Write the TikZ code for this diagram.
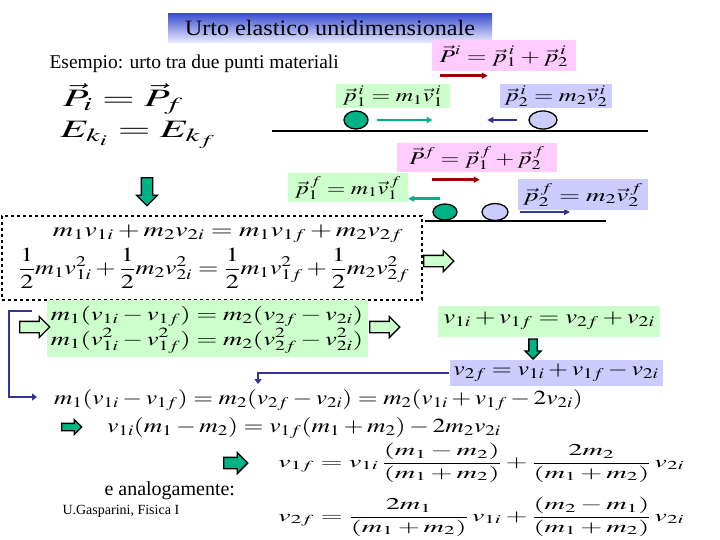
\documentclass[tikz,border=0pt]{standalone}
\usepackage{mathptmx}
\usepackage{fontspec}
\setmainfont{Liberation Serif}
\usepackage{tikz}
\usetikzlibrary{positioning,arrows.meta,shapes.geometric,shapes.arrows}

\definecolor{paleGreen}{HTML}{CCFFCC}
\definecolor{palePink}{HTML}{FFCCFF}
\definecolor{paleBlue}{HTML}{CCCCFF}
\definecolor{tealGreen}{HTML}{00B386}
\definecolor{darkBlue}{HTML}{333399}
\definecolor{darkRed}{HTML}{A00000}
\definecolor{titleBlue}{HTML}{3A4FD0}

% stretched equation, as in the slide
\newcommand{\weq}[2][1.3]{\scalebox{#1}[1]{$\displaystyle #2$}}

\begin{document}
\begin{tikzpicture}[
  x=1pt, y=-1pt,
  every node/.style={align=center},
  eqbox/.style ={inner sep=2pt, font=\fontsize{20}{24}\selectfont},
  topbox/.style={inner sep=2pt, font=\fontsize{18}{21}\selectfont},
  pbox/.style  ={topbox, fill=palePink},
  gbox/.style  ={topbox, fill=paleGreen},
  bbox/.style  ={topbox, fill=paleBlue},
  ball/.style  ={ellipse, draw=black, line width=1.3pt, inner sep=0pt},
  vel/.style   ={-{Triangle[length=6pt,width=6pt]}, line width=2.6pt},
  blockR/.style={single arrow, draw=black, line width=1.3pt, fill=paleGreen,
                 minimum height=30, inner sep=5pt, single arrow head extend=5pt},
  blockT/.style={blockR, fill=tealGreen},
  blockD/.style={blockT, shape border rotate=270},
  link/.style  ={draw=darkBlue, line width=2.6pt, -{Triangle[length=5pt,width=7pt]}},
]
\useasboundingbox (0,0) rectangle (720,540);

% Title and intro
\node[shade, top color=titleBlue, bottom color=blue!8, minimum width=324,
      minimum height=29, inner sep=0pt, font=\fontsize{22}{24}\selectfont] (title) at (330,28)
      {\scalebox{1.1}[1]{Urto elastico unidimensionale}};
\node[anchor=west, font=\fontsize{19.5}{22}\selectfont] (intro) at (46,64)
      {Esempio: urto tra due punti materiali};

% Initial state
\node[pbox, minimum width=144, minimum height=31] (Pi) at (504,56)
      {\weq[1.41]{\vec P^i = \vec p_1^{\,i} + \vec p_2^{\,i}}};
\node[gbox, minimum width=114, minimum height=24] (p1i) at (393,96)
      {\weq[1.34]{\vec p_1^{\,i} = m_1\vec v_1^{\,i}}};
\node[bbox, minimum width=112, minimum height=24] (p2i) at (556,96)
      {\weq[1.38]{\vec p_2^{\,i} = m_2\vec v_2^{\,i}}};
\node[ball, fill=tealGreen, minimum width=24, minimum height=18] (b1i) at (356,120) {};
\node[ball, fill=paleBlue, minimum width=28, minimum height=18] (b2i) at (543,120) {};
\coordinate (g1a) at (272,131);
\coordinate (g1b) at (648,131);
\draw[line width=2pt] (g1a) -- (g1b);
\draw[vel, darkRed] ([xshift=8pt,yshift=-4pt]Pi.south west) -- ++(48,0);
\draw[vel, tealGreen] ([xshift=8pt]b1i.east) -- ++(56,0);
\draw[vel, darkBlue] ([xshift=-11pt]b2i.west) -- ++(-30,0);

% Final state
\draw[vel, darkBlue] (520,212) coordinate (v2fa) -- (570,212);
\node[pbox, minimum width=160, minimum height=29] (Pf) at (477,158)
      {\weq[1.35]{\vec P^f = \vec p_1^{\,f} + \vec p_2^{\,f}}};
\node[gbox, minimum width=120, minimum height=29] (p1f) at (348,188)
      {\weq[1.33]{\vec p_1^{\,f} = m_1\vec v_1^{\,f}}};
\node[bbox, minimum width=130, minimum height=31] (p2f) at (583,195)
      {\weq[1.5]{\vec p_2^{\,f} = m_2\vec v_2^{\,f}}};
\node[ball, fill=tealGreen, minimum width=24, minimum height=16] (b1f) at (445,212) {};
\node[ball, fill=paleBlue, minimum width=26, minimum height=17] (b2f) at (495,212) {};
\coordinate (g2a) at (425,221);
\coordinate (g2b) at (606,221);
\draw[line width=2pt] (g2a) -- (g2b);
\draw[vel, darkRed] ([xshift=35pt,yshift=-7pt]Pf.south west) -- ++(48,0);
\draw[vel, tealGreen] ([yshift=4pt]p1f.south east) ++(32,0) -- ++(-32,0);

% Conservation laws
\node[font=\fontsize{25}{28}\selectfont\boldmath, inner sep=0pt] (PiPf) at (123,99)
      {\weq[1.68]{\vec P_i = \vec P_f}};
\node[font=\fontsize{25}{28}\selectfont\boldmath, inner sep=0pt] (EkEk) at (138,135)
      {\weq[1.68]{E_{k_i} = E_{k_f}}};
\node[blockD, minimum height=28] (down1) at (147,189) {};

\node[draw, dashed, line width=1.2pt, minimum width=420, minimum height=84] (cons) at (212,258) {};
\node[eqbox] (momEq) at (228,234)
      {\weq[1.41]{m_1v_{1i} + m_2v_{2i} = m_1v_{1f} + m_2v_{2f}}};
\node[eqbox] (enEq) at (214,268)
      {\weq[1.31]{\frac12 m_1v_{1i}^2 + \frac12 m_2v_{2i}^2 = \frac12 m_1v_{1f}^2 + \frac12 m_2v_{2f}^2}};
\node[blockR] (right1) at (436,261) {};

% Rearranged
\node[fill=paleGreen, minimum width=321, minimum height=57] (diff) at (207,328) {};
\node[eqbox, font=\fontsize{19}{22}\selectfont, inner sep=0pt] (diffA) at (207,316)
      {\weq[1.4]{m_1(v_{1i} - v_{1f}) = m_2(v_{2f} - v_{2i})}};
\node[eqbox, font=\fontsize{19}{22}\selectfont, inner sep=0pt] (diffB) at (207,341)
      {\weq[1.4]{m_1(v_{1i}^2 - v_{1f}^2) = m_2(v_{2f}^2 - v_{2i}^2)}};
\node[blockR] (right2) at (32,327) {};
\node[blockR] (right3) at (382,327) {};
\node[eqbox, fill=paleGreen, minimum width=222, minimum height=31] (sum) at (549,321)
      {\weq[1.33]{v_{1i} + v_{1f} = v_{2f} + v_{2i}}};
\node[blockD, minimum height=20, inner sep=3.5pt, single arrow head extend=4pt] (down2) at (533,347) {};
\node[eqbox, fill=paleBlue, minimum width=213, minimum height=26] (v2f) at (556,373)
      {\weq[1.29]{v_{2f} = v_{1i} + v_{1f} - v_{2i}}};

% Substitution
\node[eqbox, anchor=west] (subs) at (52,400)
      {\weq[1.27]{m_1(v_{1i} - v_{1f}) = m_2(v_{2f} - v_{2i}) = m_2(v_{1i} + v_{1f} - 2v_{2i})}};
\coordinate (subsIn) at (258,384);
\draw[link] (v2f.west) -| (subsIn);
\coordinate (brA) at (32,311);
\coordinate (brB) at (37,397);
\draw[link] (brA) -- (9,311) |- (brB);

\node[blockT, minimum height=20, inner sep=3pt, single arrow head extend=4pt] (right4) at (70,427) {};
\node[eqbox, anchor=west] (lin) at (105,428)
      {\weq[1.28]{v_{1i}(m_1 - m_2) = v_{1f}(m_1 + m_2) - 2m_2v_{2i}}};

% Results
\node[blockT, minimum height=24] (right5) at (233,463) {};
\node[inner sep=2pt, font=\fontsize{16.5}{19}\selectfont, anchor=west] (res1) at (276,463)
      {\weq[1.72]{v_{1f} = v_{1i}\,\frac{(m_1 - m_2)}{(m_1 + m_2)} + \frac{2m_2}{(m_1 + m_2)}\,v_{2i}}};
\node[anchor=west, font=\fontsize{20}{23}\selectfont] (analog) at (101,491) {e analogamente:};
\node[anchor=west, font=\fontsize{14}{16}\selectfont] (author) at (59,511) {U.Gasparini, Fisica I};
\node[inner sep=2pt, font=\fontsize{16.5}{19}\selectfont, anchor=west] (res2) at (276,517)
      {\weq[1.72]{v_{2f} = \frac{2m_1}{(m_1 + m_2)}\,v_{1i} + \frac{(m_2 - m_1)}{(m_1 + m_2)}\,v_{2i}}};

\end{tikzpicture}
\end{document}
